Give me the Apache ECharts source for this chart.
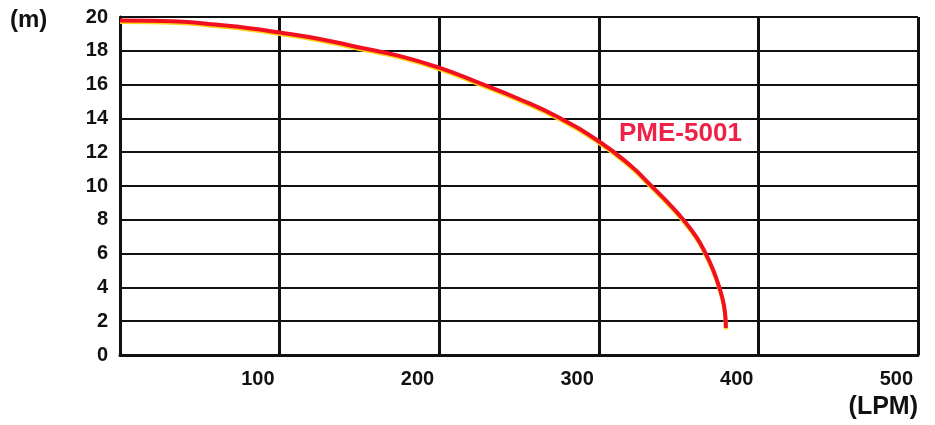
<!DOCTYPE html>
<html>
<head>
<meta charset="utf-8">
<script src="https://cdn.jsdelivr.net/npm/echarts@6/dist/echarts.min.js"></script>
<style>
html,body{margin:0;padding:0;background:#fff;}
#chart{width:935px;height:425px;}
</style>
</head>
<body>
<div id="chart"></div>
<script>
// Data
var flowLPM = [0, 20, 40, 60, 80, 100, 125, 150, 175, 200, 225, 250, 275, 300, 320, 332, 343.5, 353, 361, 367, 371.8, 375.5, 378.3, 379.5, 379.6];
var headM   = [19.8, 19.78, 19.72, 19.55, 19.35, 19.08, 18.7, 18.2, 17.7, 17.0, 16.1, 15.15, 14.05, 12.65, 11.2, 10.1, 9.0, 8.0, 7.0, 6.0, 5.0, 4.0, 3.0, 2.0, 1.6];
var seriesName = 'PME-5001';
var xTicks = [100, 200, 300, 400, 500];
var yTicks = [0, 2, 4, 6, 8, 10, 12, 14, 16, 18, 20];
var xUnit = '(LPM)';
var yUnit = '(m)';

var pts = flowLPM.map(function (x, i) { return [x, headM[i]]; });
var font = '"Liberation Sans", Arial, sans-serif';

var chart = echarts.init(document.getElementById('chart'));
chart.setOption({
  animation: false,
  backgroundColor: '#fff',
  grid: { left: 120, right: 17, top: 17, bottom: 70 },
  xAxis: {
    type: 'value', min: 0, max: 500, interval: 100,
    axisLine: { show: true, lineStyle: { color: '#111', width: 3 } },
    axisTick: { show: false },
    splitLine: { show: true, lineStyle: { color: '#111', width: 3 } },
    axisLabel: {
      fontFamily: font, fontWeight: 'bold', fontSize: 20, color: '#111',
      margin: 14, align: 'right', padding: [0, 5, 0, 0],
      formatter: function (v) { return xTicks.indexOf(v) >= 0 ? String(v) : ''; }
    }
  },
  yAxis: {
    type: 'value', min: 0, max: 20, interval: 2,
    axisLine: { show: true, lineStyle: { color: '#111', width: 3 } },
    axisTick: { show: false },
    splitLine: { show: true, lineStyle: { color: '#111', width: 2 } },
    axisLabel: {
      fontFamily: font, fontWeight: 'bold', fontSize: 20, color: '#111', margin: 12,
      formatter: function (v) { return yTicks.indexOf(v) >= 0 ? String(v) : ''; }
    }
  },
  series: [{
    name: seriesName,
    type: 'line',
    data: pts,
    smooth: 0.5,
    showSymbol: false,
    lineStyle: { color: '#f01020', width: 4, shadowColor: '#ffd21a', shadowOffsetY: 1.5, shadowBlur: 0 }
  }],
  graphic: [
    { type: 'text', left: 10, top: 8, style: { text: yUnit, font: 'bold 24px ' + font, fill: '#111' } },
    { type: 'text', right: 17, top: 395, style: { text: xUnit, font: 'bold 25px ' + font, fill: '#111' } },
    { type: 'text', left: 619, top: 121, style: { text: seriesName, font: 'bold 26px ' + font, fill: '#ee2248' } }
  ]
});
</script>
</body>
</html>
